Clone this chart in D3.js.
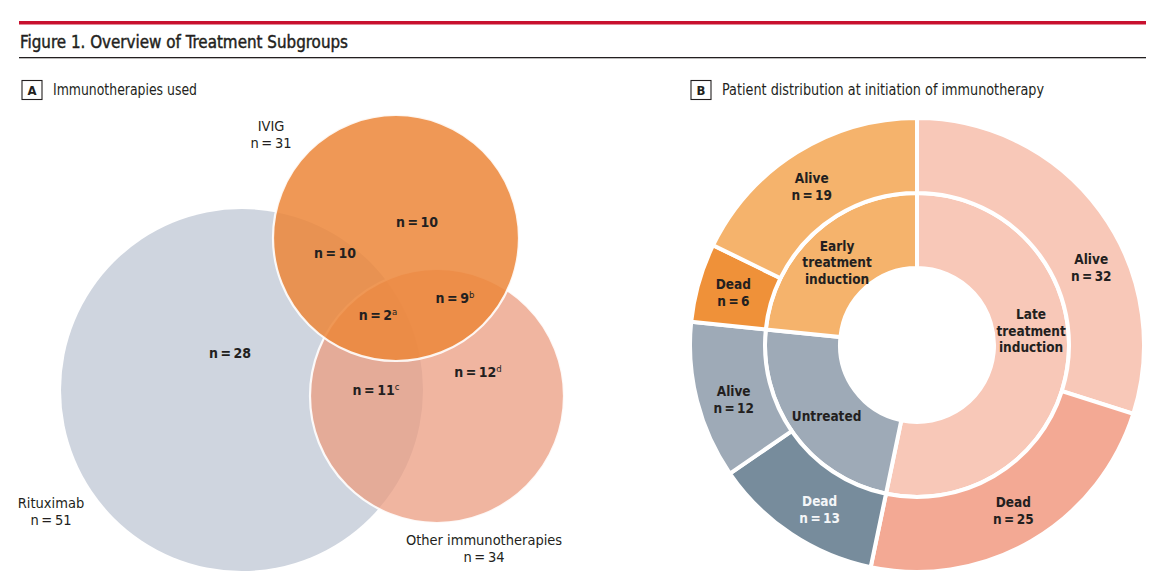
<!DOCTYPE html>
<html>
<head>
<meta charset="utf-8">
<script src="https://cdn.jsdelivr.net/npm/d3@7"></script>
<style>
  html, body { margin: 0; padding: 0; background: #fff; }
  svg { display: block; }
  text { font-family: "Liberation Sans Narrow", "DejaVu Sans Condensed", "Roboto", sans-serif; fill: #231f20; }
</style>
</head>
<body>
<svg id="chart" width="1170" height="574"></svg>
<script>
// ---------- DATA ----------
const figureTitle = "Figure 1. Overview of Treatment Subgroups";
const panelALetter = "A";
const panelATitle = "Immunotherapies used";
const panelBLetter = "B";
const panelBTitle = "Patient distribution at initiation of immunotherapy";

// Venn: sets and totals
const vennSets = ["Rituximab", "IVIG", "Other immunotherapies"];
const vennTotals = [51, 31, 34];
// Venn regions: membership, count, footnote letter
const vennRegionSets = [["Rituximab"], ["IVIG"], ["Rituximab", "IVIG"], ["Rituximab", "IVIG", "Other immunotherapies"], ["IVIG", "Other immunotherapies"], ["Rituximab", "Other immunotherapies"], ["Other immunotherapies"]];
const vennRegionCounts = [28, 10, 10, 2, 9, 11, 12];
const vennRegionNotes = ["", "", "", "a", "b", "c", "d"];

// Donut: inner ring (treatment timing), outer ring (status)
const innerGroups = ["Late treatment induction", "Untreated", "Early treatment induction"];
const innerCounts = [57, 25, 25];
const outerGroups = ["Late treatment induction", "Late treatment induction", "Untreated", "Untreated", "Early treatment induction", "Early treatment induction"];
const outerStatus = ["Alive", "Dead", "Dead", "Alive", "Dead", "Alive"];
const outerCounts = [32, 25, 13, 12, 6, 19];

// ---------- STYLE / LAYOUT ----------
const svg = d3.select("#chart");
const nEq = n => "n\u2009=\u2009" + n;

// header
svg.append("rect").attr("x", 19).attr("y", 21).attr("width", 1127).attr("height", 3.5).attr("fill", "#c8102e");
svg.append("text").attr("x", 20).attr("y", 47.5).attr("font-size", 18)
  .style("stroke", "#231f20").style("stroke-width", 0.45)
  .attr("textLength", 328).attr("lengthAdjust", "spacingAndGlyphs")
  .text(figureTitle);
svg.append("rect").attr("x", 19).attr("y", 57).attr("width", 1127).attr("height", 1.3).attr("fill", "#231f20");

function panelHeader(x, letter, title, len) {
  svg.append("rect").attr("x", x).attr("y", 80.5).attr("width", 20).attr("height", 19)
    .attr("fill", "none").attr("stroke", "#231f20").attr("stroke-width", 1.1);
  svg.append("text").attr("x", x + 10).attr("y", 95).attr("text-anchor", "middle")
    .attr("font-size", 13).attr("font-weight", "bold").text(letter);
  svg.append("text").attr("x", x + 31).attr("y", 95).attr("font-size", 15)
    .attr("textLength", len).attr("lengthAdjust", "spacingAndGlyphs").text(title);
}
panelHeader(22, panelALetter, panelATitle, 144);
panelHeader(691, panelBLetter, panelBTitle, 322);

// ---------- PANEL A: VENN ----------
const vennLayout = {
  "Rituximab": { cx: 242, cy: 390, r: 181, fill: "#cfd5df", opacity: 1 },
  "Other immunotherapies": { cx: 437, cy: 396, r: 127, fill: "rgb(235,156,128)", opacity: 0.75 },
  "IVIG": { cx: 396, cy: 238, r: 123, fill: "rgb(236,135,58)", opacity: 0.86 }
};
const drawOrder = ["Rituximab", "Other immunotherapies", "IVIG"];
const vennG = svg.append("g");
vennG.selectAll("circle").data(drawOrder).join("circle")
  .attr("cx", d => vennLayout[d].cx)
  .attr("cy", d => vennLayout[d].cy)
  .attr("r", d => vennLayout[d].r)
  .attr("fill", d => vennLayout[d].fill)
  .attr("fill-opacity", d => vennLayout[d].opacity)
  .attr("stroke", d => d === "Rituximab" ? "none" : "#fff")
  .attr("stroke-width", 2.2)
  .attr("stroke-opacity", 0.9);

// set labels
const setLabelPos = {
  "IVIG": [271, 131],
  "Rituximab": [51, 508],
  "Other immunotherapies": [484, 545]
};
vennSets.forEach((s, i) => {
  const t = svg.append("text").attr("text-anchor", "middle").attr("font-size", 14.5);
  t.append("tspan").attr("x", setLabelPos[s][0]).attr("y", setLabelPos[s][1]).text(s);
  t.append("tspan").attr("x", setLabelPos[s][0]).attr("dy", 17).text(nEq(vennTotals[i]));
});

// region labels
const regionLabelPos = [[230, 358], [417, 227], [335, 258], [378, 320], [455, 303], [376, 395], [478, 377]];
vennRegionCounts.forEach((c, i) => {
  const t = svg.append("text").attr("x", regionLabelPos[i][0]).attr("y", regionLabelPos[i][1])
    .attr("text-anchor", "middle").attr("font-size", 14).attr("font-weight", 600);
  t.append("tspan").text(nEq(c));
  if (vennRegionNotes[i]) {
    t.append("tspan").attr("dy", -5).attr("font-size", 9.5).attr("font-weight", 500).text(vennRegionNotes[i]);
  }
});

// ---------- PANEL B: DONUT ----------
const cx = 917, cy = 345;
const groupColor = d3.scaleOrdinal().domain(innerGroups).range(["#f8c8b8", "#9eaab7", "#f5b36c"]);
const deadColor = d3.scaleOrdinal().domain(innerGroups).range(["#f3a994", "#778c9c", "#ef9139"]);

const pie = d3.pie().sort(null).value(d => d);
const innerArcs = pie(innerCounts);
const outerArcs = pie(outerCounts);

const innerArc = d3.arc().innerRadius(77).outerRadius(152);
const outerArc = d3.arc().innerRadius(152).outerRadius(227);

const donut = svg.append("g").attr("transform", `translate(${cx},${cy})`);
donut.selectAll("path.inner").data(innerArcs).join("path").attr("class", "inner")
  .attr("d", innerArc)
  .attr("fill", (d, i) => groupColor(innerGroups[i]))
  .attr("stroke", "#fff").attr("stroke-width", 4).attr("stroke-linejoin", "miter");
donut.selectAll("path.outer").data(outerArcs).join("path").attr("class", "outer")
  .attr("d", outerArc)
  .attr("fill", (d, i) => outerStatus[i] === "Dead" ? deadColor(outerGroups[i]) : groupColor(outerGroups[i]))
  .attr("stroke", "#fff").attr("stroke-width", 4).attr("stroke-linejoin", "miter");

// label placement: polar positions (angle offsets in degrees relative to arc mid, radius)
const outerLabelShift = [12, 0, -3, -2, 0, -1.5];
const innerLabelShift = [-13, -2, -2];
function polar(midAngle, shiftDeg, r) {
  const a = midAngle + shiftDeg * Math.PI / 180;
  return [Math.sin(a) * r, -Math.cos(a) * r];
}
outerArcs.forEach((d, i) => {
  const mid = (d.startAngle + d.endAngle) / 2;
  const [x, y] = polar(mid, outerLabelShift[i], 191);
  const dark = outerStatus[i] === "Dead" && outerGroups[i] === "Untreated";
  const t = donut.append("text").attr("text-anchor", "middle").attr("font-size", 13.5)
    .attr("font-weight", 600).style("fill", dark ? "#f4f6f8" : "#231f20");
  t.append("tspan").attr("x", x).attr("y", y - 3).text(outerStatus[i]);
  t.append("tspan").attr("x", x).attr("dy", 17).text(nEq(outerCounts[i]));
});
innerArcs.forEach((d, i) => {
  const mid = (d.startAngle + d.endAngle) / 2;
  const [x, y] = polar(mid, innerLabelShift[i], 115);
  const words = innerGroups[i].split(" ");
  const t = donut.append("text").attr("text-anchor", "middle").attr("font-size", 13.5).attr("font-weight", 600);
  const lh = 16.5;
  words.forEach((w, j) => {
    t.append("tspan").attr("x", x).attr("y", y + 5 + (j - (words.length - 1) / 2) * lh).text(w);
  });
});
</script>
</body>
</html>
